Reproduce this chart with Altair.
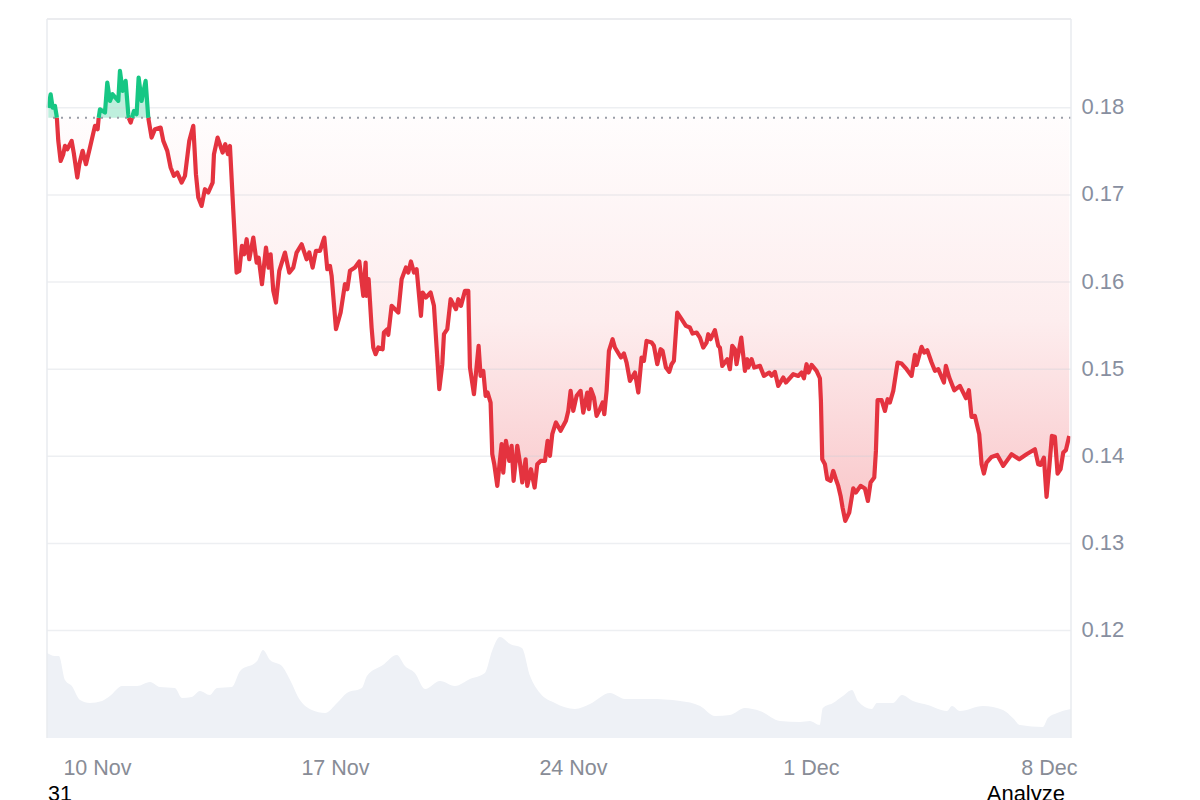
import json

import altair as alt
import pandas as pd

# days counted from 10 Nov
days = [
    -1.432, -1.363, -1.304, -1.236, -1.187, -1.18, -1.138, -1.069, -0.991, -0.942,
    -0.873, -0.745, -0.677, -0.579, -0.520, -0.422, -0.324, -0.206, -0.059, 0.019,
    0.05, 0.088, 0.235, 0.303, 0.382, 0.460, 0.627, 0.676, 0.755, 0.843,
    0.921, 0.935, 0.990, 1.03, 1.088, 1.166, 1.225, 1.313, 1.431, 1.509,
    1.607, 1.705, 1.872, 1.951, 2.068, 2.166, 2.264, 2.362, 2.490, 2.588,
    2.715, 2.833, 2.911, 2.980, 3.078, 3.176, 3.274, 3.402, 3.441, 3.549,
    3.696, 3.774, 3.853, 3.911, 4.010, 4.107, 4.186, 4.264, 4.333, 4.402,
    4.480, 4.598, 4.696, 4.755, 4.853, 4.971, 5.049, 5.108, 5.186, 5.265,
    5.362, 5.529, 5.656, 5.774, 5.872, 6.020, 6.167, 6.245, 6.343, 6.441,
    6.559, 6.686, 6.775, 6.853, 6.902, 7.030, 7.167, 7.294, 7.363, 7.441,
    7.588, 7.716, 7.833, 7.902, 7.931, 7.990, 8.078, 8.127, 8.196, 8.275,
    8.402, 8.441, 8.539, 8.569, 8.667, 8.863, 8.961, 9.088, 9.157, 9.235,
    9.324, 9.402, 9.529, 9.578, 9.676, 9.814, 9.912, 9.990, 10.069, 10.157,
    10.206, 10.304, 10.402, 10.559, 10.627, 10.706, 10.824, 10.922, 10.971, 11.088,
    11.225, 11.284, 11.363, 11.431, 11.490, 11.578, 11.627, 11.686, 11.775, 11.902,
    11.951, 12.029, 12.127, 12.196, 12.255, 12.363, 12.441, 12.510, 12.608, 12.657,
    12.765, 12.873, 12.951, 13.049, 13.176, 13.255, 13.324, 13.392, 13.500, 13.637,
    13.794, 13.863, 13.931, 14.010, 14.108, 14.225, 14.304, 14.422, 14.471, 14.529,
    14.618, 14.696, 14.794, 14.873, 14.922, 14.990, 15.059, 15.167, 15.235, 15.412,
    15.500, 15.578, 15.676, 15.824, 15.922, 16.019, 16.088, 16.166, 16.313, 16.382,
    16.480, 16.578, 16.637, 16.735, 16.833, 16.902, 16.970, 17.068, 17.196, 17.323,
    17.441, 17.519, 17.637, 17.735, 17.833, 17.931, 17.980, 18.049, 18.176, 18.274,
    18.323, 18.392, 18.539, 18.617, 18.686, 18.764, 18.813, 18.951, 19.059, 19.127,
    19.157, 19.255, 19.333, 19.500, 19.618, 19.775, 19.843, 19.941, 20.039, 20.186,
    20.264, 20.480, 20.627, 20.725, 20.794, 20.872, 20.931, 21.020, 21.166, 21.264,
    21.294, 21.333, 21.412, 21.480, 21.578, 21.657, 21.735, 21.804, 21.873, 21.931,
    22.010, 22.127, 22.245, 22.323, 22.461, 22.588, 22.676, 22.755, 22.863, 22.912,
    22.961, 23.078, 23.176, 23.255, 23.323, 23.422, 23.549, 23.667, 23.814, 23.961,
    24.059, 24.108, 24.255, 24.333, 24.422, 24.549, 24.647, 24.745, 24.912, 24.970,
    25.069, 25.216, 25.382, 25.559, 25.647, 25.725, 25.823, 25.951, 26.020, 26.088,
    26.166, 26.313, 26.480, 26.657, 26.902, 27.127, 27.343, 27.588, 27.686, 27.755,
    27.853, 27.931, 28.010, 28.088, 28.176, 28.255, 28.343, 28.422, 28.500, 28.598,
]

BASE = 0.17885

prices = [
    .18000, .18156, .18003, .18023, .17908, BASE, .17621, .17391, .17468, .17563,
    .17525, .17621, .17468, .17200, .17353, .17506, .17353, .17544, .17793, .17755,
    BASE, .17984, .17946, .18290, .18080, .18156, .18080, .18424, .18195, .18310,
    .17927, BASE, .17831, BASE, .17965, .17927, .18348, .18080, .18310, BASE,
    .17659, .17755, .17774, .17621, .17506, .17315, .17219, .17257, .17142, .17219,
    .17621, .17793, .17238, .16970, .16874, .17066, .17028, .17142, .17468, .17659,
    .17487, .17582, .17468, .17563, .16817, .16109, .16128, .16415, .16319, .16492,
    .16262, .16511, .16224, .16281, .15975, .16396, .16166, .16319, .15899, .15765,
    .16128, .16339, .16109, .16166, .16339, .16434, .16262, .16339, .16166, .16358,
    .16358, .16511, .16148, .16186, .16071, .15459, .15650, .15976, .15918, .16129,
    .16167, .16236, .15842, .16224, .15842, .16033, .15478, .15249, .15172, .15249,
    .15229, .15421, .15459, .15394, .15727, .15650, .16033, .16167, .16110, .16236,
    .16110, .16148, .15612, .15880, .15823, .15880, .15727, .15249, .14770, .15057,
    .15402, .15459, .15803, .15689, .15803, .15727, .15899, .15899, .15019, .14713,
    .15268, .14923, .14981, .14694, .14732, .14617, .14024, .13909, .13660, .14139,
    .13813, .14177, .13947, .14120, .13718, .14120, .13928, .13699, .13966, .13660,
    .13852, .13641, .13909, .13947, .13947, .14177, .14005, .14254, .14388, .14292,
    .14407, .14521, .14751, .14521, .14694, .14751, .14502, .14732, .14541, .14770,
    .14675, .14464, .14541, .14617, .14483, .14751, .15210, .15344, .15249, .15134,
    .15180, .15076, .14866, .14962, .14732, .15134, .15095, .15325, .15306, .15268,
    .15057, .15229, .15210, .15019, .14969, .15057, .15095, .15650, .15574, .15497,
    .15478, .15409, .15421, .15363, .15248, .15306, .15401, .15344, .15447, .15268,
    .15248, .15038, .15114, .15000, .15268, .15229, .15057, .15363, .14981, .15114,
    .15019, .15114, .15019, .15038, .14923, .14961, .14923, .14969, .14808, .14904,
    .14847, .14942, .14923, .14961, .14896, .15057, .14961, .15049, .14981, .14896,
    .14636, .13966, .13909, .13737, .13718, .13832, .13737, .13660, .13545, .13411,
    .13258, .13354, .13633, .13584, .13660, .13630, .13488, .13699, .13756, .14062,
    .14644, .14644, .14521, .14655, .14617, .14751, .15076, .15065, .15000, .14923,
    .15164, .15049, .15256, .15191, .15218, .15076, .14981, .15000, .14847, .15038,
    .14904, .14758, .14808, .14667, .14758, .14452, .14464, .14253, .13909, .13802,
    .13928, .13993, .14016, .13890, .14024, .13966, .14024, .14081, .13909, .13901,
    .13985, .13534, .13871, .14234, .14223, .13802, .13852, .14043, .14070, .14234,
]

vol_days = [
    -1.47, -1.24, -1.12, -0.94, -0.74, -0.5, -0.21, 0.15, 0.38, 0.74, 1.18, 1.56, 1.85,
    2.29, 2.5, 2.79, 3.03, 3.32, 3.53, 3.97, 4.21, 4.71, 4.88, 5.09, 5.44, 5.68, 5.97,
    6.32, 6.71, 7.06, 7.35, 7.79, 7.94, 8.41, 8.82, 9.06, 9.35, 9.65, 10.09, 10.53,
    10.97, 11.41, 11.62, 11.85, 12.15, 12.5, 12.74, 13.03, 13.47, 14.06, 14.5, 15.09,
    15.53, 16.26, 17.15, 17.74, 18.18, 18.62, 19.06, 19.5, 20.09, 20.68, 20.97, 21.26,
    21.35, 21.65, 21.94, 22.21, 22.38, 22.79, 22.94, 23.41, 23.68, 24, 24.44, 25, 25.15,
    25.38, 26.06, 26.65, 26.94, 27.15, 27.82, 27.97, 28.24, 28.65,
]
volumes = [
    85, 82, 82, 58, 52, 38, 35, 37, 42, 52, 52, 56, 51,
    50, 40, 41, 47, 43, 50, 51, 67, 77, 88, 78, 72, 58, 38,
    28, 25, 35, 45, 50, 62, 73, 83, 72, 65, 49, 57, 52,
    59, 65, 87, 101, 94, 90, 62, 45, 35, 29, 34, 45,
    39, 39, 37, 32, 22, 23, 30, 27, 17, 16, 17, 13,
    30, 35, 42, 48, 37, 29, 35, 35, 43, 37, 33, 27, 32,
    27, 32, 28, 20, 13, 11, 20, 25, 29,
]

tick_days = [0, 7, 14, 21, 28]
tick_labels = ["10 Nov", "17 Nov", "24 Nov", "1 Dec", "8 Dec"]
price_ticks = [0.12, 0.13, 0.14, 0.15, 0.16, 0.17, 0.18]

FONT = "Liberation Sans"
RED = "#e4333f"
GREEN = "#16c784"

df = pd.DataFrame({"day": days, "price": prices})
df["base"] = BASE
df["down"] = df["price"].clip(upper=BASE)
df["up"] = df["price"].clip(lower=BASE)

# split the line where it touches the baseline so each run gets one colour
rows = []
run = 0
for d, p in zip(days, prices):
    rows.append({"run": run, "day": d, "price": p})
    if p == BASE:
        run += 1
        rows.append({"run": run, "day": d, "price": p})
runs = pd.DataFrame(rows)
is_up = runs.groupby("run")["price"].transform("max") > BASE
runs["side"] = is_up.map({True: "up", False: "down"})

vol_df = pd.DataFrame({"day": vol_days, "volume": volumes})

x_scale = alt.Scale(domain=[-1.47, 28.65], nice=False, zero=False)
y_scale = alt.Scale(domain=[0.10766, 0.1902], nice=False, zero=False)

label_expr = "%s[datum.value]" % json.dumps(dict(zip(map(str, tick_days), tick_labels)))
x_axis = alt.Axis(
    values=tick_days, labelExpr=label_expr, title=None, grid=False, domain=False,
    ticks=False, labelPadding=19, labelFontSize=21.5, labelColor="#888c96", labelFont=FONT,
    labelFlush=False, labelOverlap=False,
)
y_axis = alt.Axis(
    values=price_ticks, format=".2f", orient="right", title=None, domain=False, ticks=False,
    grid=False, labelPadding=10, labelFontSize=22, labelColor="#888fa0", labelFont=FONT,
    labelOffset=-1, labelOverlap=False,
)

x = alt.X("day:Q", scale=x_scale, axis=x_axis)
y = alt.Y("price:Q", scale=y_scale, axis=y_axis, title=None)

volume = alt.Chart(vol_df).mark_area(color="#eef1f6", interpolate="monotone").encode(
    x=x,
    y=alt.Y("volume:Q", scale=alt.Scale(domain=[0, 719]), axis=None),
)

red_fill = alt.Gradient(
    gradient="linear", x1=1, x2=1, y1=0, y2=1,
    stops=[
        alt.GradientStop(color="rgba(234,57,67,0.01)", offset=0),
        alt.GradientStop(color="rgba(234,57,67,0.09)", offset=0.5),
        alt.GradientStop(color="rgba(234,57,67,0.29)", offset=1),
    ],
)
area_down = alt.Chart(df).mark_area(color=red_fill).encode(x=x, y=alt.Y("down:Q", scale=y_scale, axis=y_axis), y2="base:Q")
area_up = alt.Chart(df).mark_area(color=GREEN, opacity=0.28).encode(x=x, y=alt.Y("up:Q", scale=y_scale, axis=y_axis), y2="base:Q")

# light horizontal lines, they show through the red fill
grid = alt.Chart(pd.DataFrame({"price": price_ticks})).mark_rule(
    color="#c8ccd6", opacity=0.32, strokeWidth=1.5
).encode(y=y)

baseline = alt.Chart(pd.DataFrame({"price": [BASE]})).mark_rule(
    color="#9a9ea8", strokeWidth=2, strokeDash=[2, 6]
).encode(y=y)

line = alt.Chart(runs).mark_line(strokeWidth=4.2, strokeJoin="round").encode(
    x=x,
    y=y,
    detail="run:N",
    color=alt.Color("side:N", scale=alt.Scale(domain=["up", "down"], range=[GREEN, RED]), legend=None),
)

top_edge = alt.Chart(pd.DataFrame({"a": [0]})).mark_rule(color="#e4e6ea", strokeWidth=1.5).encode(
    x=alt.value(0), x2=alt.value(1024), y=alt.value(0)
)
left_edge = alt.Chart(pd.DataFrame({"a": [0]})).mark_rule(color="#e9ebef", strokeWidth=1.5).encode(
    x=alt.value(0), y=alt.value(0), y2=alt.value(719)
)
right_edge = alt.Chart(pd.DataFrame({"a": [0]})).mark_rule(color="#e9ebef", strokeWidth=1.5).encode(
    x=alt.value(1024), y=alt.value(0), y2=alt.value(719)
)

count_text = alt.Chart(pd.DataFrame({"t": ["31"]})).mark_text(
    align="left", baseline="alphabetic", fontSize=21.5, font=FONT, color="#000000"
).encode(x=alt.value(1), y=alt.value(782), text="t:N")
analyze_text = alt.Chart(pd.DataFrame({"t": ["Analyze"]})).mark_text(
    align="right", baseline="alphabetic", fontSize=22, font=FONT, color="#000000"
).encode(x=alt.value(1018), y=alt.value(782), text="t:N")

price_layers = alt.layer(
    area_down, area_up, grid, baseline, line, top_edge, left_edge, right_edge, count_text, analyze_text
)
chart = alt.layer(volume, price_layers).resolve_scale(y="independent").properties(
    width=1024,
    height=719,
    padding={"left": 38, "top": 10, "right": 0, "bottom": 0},
    background="#ffffff",
).configure_view(stroke=None)

chart.save("out.html", embed_options={"renderer": "svg", "actions": False})
